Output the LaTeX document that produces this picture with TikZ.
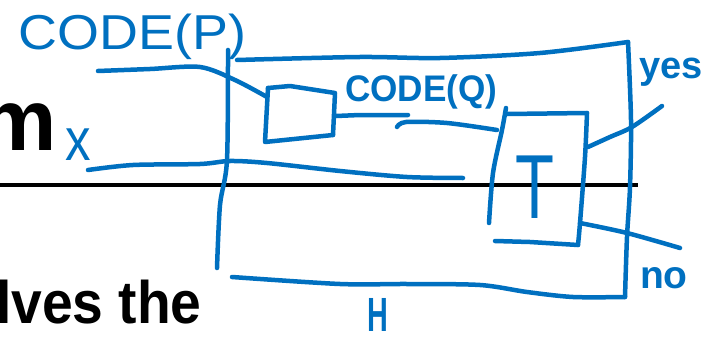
\documentclass[tikz,border=0pt]{standalone}
\usepackage{fontspec}
\setmainfont{Liberation Sans}
\definecolor{inkblue}{RGB}{0,112,192}
\begin{document}
\begin{tikzpicture}[x=1pt,y=-1pt,
  stroke/.style={draw=inkblue, line width=4.5pt, line cap=round, line join=round},
  rule/.style={draw=black, line width=4pt},
  hand/.style={text=inkblue, inner sep=0pt, outer sep=0pt, anchor=base west},
  slide/.style={text=black, inner sep=0pt, outer sep=0pt, font=\bfseries}]
\useasboundingbox (0,0) rectangle (707,337);
\clip (0,0) rectangle (707,337);
\fill[white] (0,0) rectangle (707,337);

% slide content
\coordinate (ruleL) at (0,185);
\coordinate (ruleR) at (638,185);
\draw[rule] (ruleL) -- (ruleR);
\node[slide, anchor=base east, font=\bfseries\fontsize{87}{87}\selectfont] (title) at (57,150) {m};
\node[slide, anchor=base west, font=\bfseries\fontsize{60}{60}\selectfont] (body) at (-4,323) {\scalebox{0.92}[1]{lves the}};

% handwritten labels
\node[hand, font=\fontsize{49}{49}\selectfont] (codep) at (19,50) {\scalebox{1.1}[1]{CODE(P)}};
\node[hand, font=\bfseries\fontsize{37}{37}\selectfont] (codeq) at (345,101) {\scalebox{0.95}[1]{CODE(Q)}};
\node[hand, font=\fontsize{60}{60}\selectfont] (xlab) at (65,160) {\scalebox{0.85}[1]{x}};
\node[hand, font=\bfseries\fontsize{48}{48}\selectfont] (hlab) at (367,331) {\scalebox{0.6}[1]{H}};
\node[hand, font=\fontsize{91}{91}\selectfont] (tlab) at (515,218) {\scalebox{0.7}[1]{T}};
\node[hand, font=\bfseries\fontsize{38}{38}\selectfont] (yes) at (639,79) {yes};
\node[hand, font=\bfseries\fontsize{39}{39}\selectfont] (no) at (640,288) {no};

% machine H (outer box)
\coordinate (Htl) at (228,50);
\coordinate (Hbl) at (217,268);
\coordinate (Htop0) at (237,60);
\coordinate (Htr) at (628,42);
\coordinate (Hbr) at (625,297);
\coordinate (Hbot0) at (232,277);
\draw[stroke] plot[smooth, tension=0.5] coordinates {(Htl) (227,160) (220,205) (Hbl)};
\draw[stroke] plot[smooth, tension=0.5] coordinates {(Htop0) (360,57) (440,58) (540,53) (Htr)};
\draw[stroke] plot[smooth, tension=0.5] coordinates {(Htr) (631,120) (630,187) (627,237) (Hbr)};
\draw[stroke] plot[smooth, tension=0.5] coordinates {(Hbr) (573,297) (527,292) (480,285) (407,284) (340,284) (Hbot0)};

% small box (produces CODE(Q))
\coordinate (Qtl) at (268,88);
\coordinate (Qtr) at (335,93);
\coordinate (Qbr) at (333,135);
\coordinate (Qbl) at (265,142);
\draw[stroke] (Qtl) -- (290,86) -- (Qtr) -- (Qbr);
\draw[stroke] (Qtl) -- (Qbl) -- (Qbr);

% box T
\coordinate (Ttl) at (506,108);
\coordinate (Ttr) at (587,113);
\coordinate (Tlb) at (489,223);
\coordinate (Tbr) at (578,245);
\coordinate (Tbl) at (495,241);
\draw[stroke] plot[smooth, tension=0.5] coordinates {(Ttl) (502,130) (493,173) (Tlb)};
\draw[stroke] (507,114) -- (Ttr);
\draw[stroke] plot[smooth, tension=0.5] coordinates {(Ttr) (585,157) (580,223) (Tbr)};
\draw[stroke] (Tbl) -- (530,242) -- (Tbr);

% connectors
\coordinate (pin) at (98,71);
\coordinate (xin) at (88,170);
\coordinate (xend) at (463,178);
\coordinate (yesout) at (662,106);
\coordinate (noout) at (680,248);
\draw[stroke] plot[smooth, tension=0.5] coordinates {(pin) (150,69) (200,67) (235,80) (267,97)};
\draw[stroke] (336,116) -- (360,115) -- (408,115);
\draw[stroke] plot[smooth, tension=0.5] coordinates {(397,127) (406,122) (447,123) (497,130)};
\draw[stroke] plot[smooth, tension=0.5] coordinates {(xin) (133,165) (200,164) (230,161) (267,163) (340,171) (407,177) (xend)};
\draw[stroke] plot[smooth, tension=0.5] coordinates {(588,147) (610,137) (632,127) (yesout)};
\draw[stroke] plot[smooth, tension=0.5] coordinates {(580,223) (627,233) (noout)};
\end{tikzpicture}
\end{document}
